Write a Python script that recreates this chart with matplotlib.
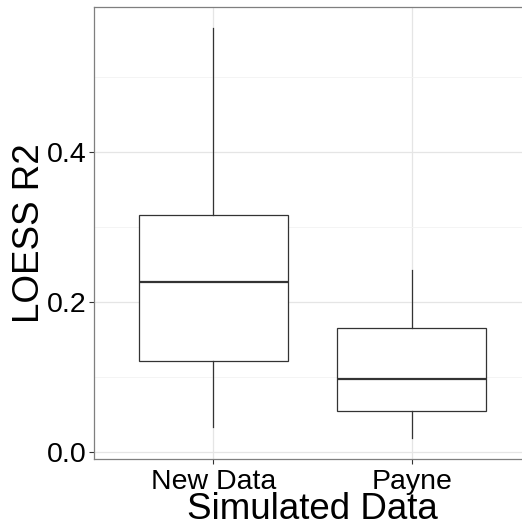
import matplotlib
matplotlib.use('Agg')
import matplotlib.pyplot as plt
import numpy as np

plt.rcParams['font.family'] = ['Liberation Sans', 'DejaVu Sans']

groups = ['New Data', 'Payne']
whislo = [0.033, 0.019]
q1 = [0.121, 0.055]
med = [0.227, 0.097]
q3 = [0.316, 0.165]
whishi = [0.565, 0.243]

stats = []
for i in range(len(groups)):
    stats.append({'label': groups[i], 'whislo': whislo[i], 'q1': q1[i],
                  'med': med[i], 'q3': q3[i], 'whishi': whishi[i], 'fliers': []})

fig = plt.figure(figsize=(5.22, 5.27), dpi=100)
ax = fig.add_axes([94/522, 1 - 459/527, 437/522, 452/527])

ax.bxp(stats, positions=[1, 2], widths=0.75, showcaps=False, patch_artist=True,
       boxprops=dict(facecolor='white', edgecolor='#333333', linewidth=0.9),
       medianprops=dict(color='#333333', linewidth=1.6),
       whiskerprops=dict(color='#333333', linewidth=0.9),
       zorder=3)

ax.set_xlim(0.4, 2.6)
ax.set_ylim(-0.0093, 0.593)
ax.set_yticks([0.0, 0.2, 0.4])
ax.set_yticklabels(['0.0', '0.2', '0.4'])
ax.set_yticks([0.1, 0.3, 0.5], minor=True)
ax.set_xticks([1, 2])
ax.set_xticklabels(groups)

ax.grid(True, which='major', color='#e5e5e5', linewidth=0.9, zorder=0)
ax.grid(True, which='minor', axis='y', color='#f3f3f3', linewidth=0.6, zorder=0)
ax.set_axisbelow(True)

for s in ax.spines.values():
    s.set_color('#7f7f7f')
    s.set_linewidth(0.9)

ax.tick_params(which='major', length=3.5, width=0.8, color='#333333', labelsize=20.5,
               labelcolor='black', pad=2)
ax.tick_params(axis='x', which='major', pad=3.5)
ax.tick_params(which='minor', length=0)

ax.set_ylabel('LOESS R2', fontsize=26.5, va='center')
ax.yaxis.set_label_coords(-0.147, 0.5)
ax.set_xlabel('Simulated Data', fontsize=26.5, va='center')
ax.xaxis.set_label_coords(0.5, -0.111)

fig.savefig('out.png', dpi=100)
